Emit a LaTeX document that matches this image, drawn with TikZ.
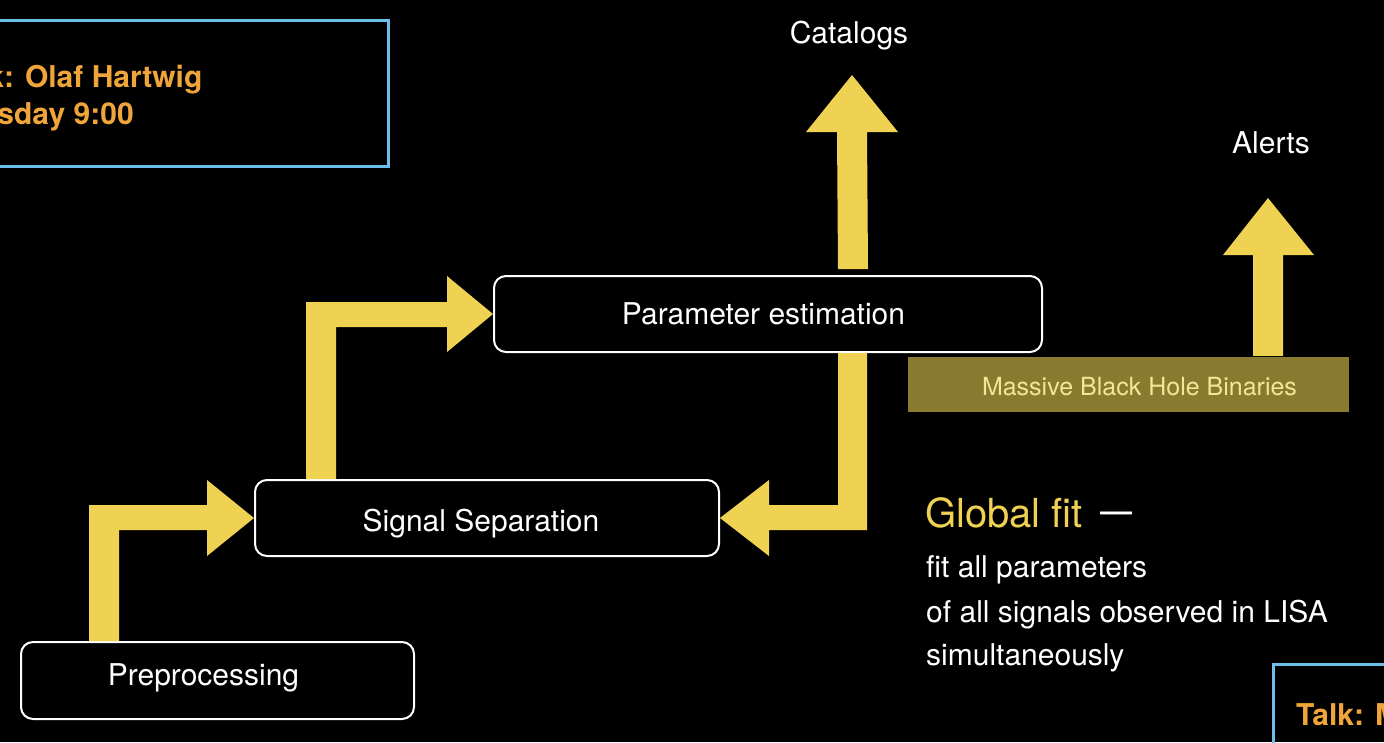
\documentclass[tikz,border=0pt]{standalone}
\usepackage{fontspec}
\setmainfont{TeX Gyre Heros}
\usetikzlibrary{calc}
\definecolor{arrowyellow}{RGB}{240,210,82}
\definecolor{mbhbfill}{RGB}{138,122,48}
\definecolor{mbhbtext}{RGB}{245,230,150}
\definecolor{talkblue}{RGB}{110,190,235}
\definecolor{talkorange}{RGB}{240,165,58}
\newcommand{\fsz}[1]{\fontsize{#1}{#1}\selectfont}
\tikzset{
  stagebox/.style={draw=white, line width=2pt, rounded corners=12pt, inner sep=0pt, fill=black},
  lbl/.style={text=white, font=\fsz{30}, inner sep=0pt, anchor=base},
  lblw/.style={text=white, font=\fsz{30}, inner sep=0pt, anchor=base west},
  blockarrow/.style={fill=arrowyellow},
  talkbox/.style={draw=talkblue, line width=3pt},
  talktext/.style={text=talkorange, font=\fsz{30}\bfseries, inner sep=0pt, anchor=base west}
}
\begin{document}
\begin{tikzpicture}[x=1pt,y=-1pt]
\useasboundingbox (0,0) rectangle (1384,742);
\fill[black] (0,0) rectangle (1384,742);
\clip (0,0) rectangle (1384,742);

% talk boxes
\draw[talkbox] (-10,20) rectangle (388,166);
\node[talktext] (talkA) at (-54,87) {Talk: Olaf Hartwig};
\node[talktext] (talkB) at (-54,124) {Tuesday 9:00};
\draw[talkbox] (1273,664) rectangle (1400,760);
\node[talktext] (talkC) at (1296,725) {Talk: M};

% stage boxes
\node[stagebox, minimum width=393pt, minimum height=77pt] (pre) at (217.5,680.5) {};
\node[lbl] (preL) at (203.5,685) {Preprocessing};
\node[stagebox, minimum width=464pt, minimum height=76pt] (sig) at (487,518) {};
\node[lbl] (sigL) at (481,531) {Signal Separation};
\node[stagebox, minimum width=548pt, minimum height=76pt] (par) at (768,314) {};
\node[lbl] (parL) at (763.5,324) {Parameter estimation};

% MBHB box
\node[fill=mbhbfill, minimum width=441pt, minimum height=55pt, inner sep=0pt] (mbhb) at (1128.5,384.5) {};
\node[text=mbhbtext, font=\fsz{25}, inner sep=0pt, anchor=base] (mbhbL) at (1139.5,395) {Massive Black Hole Binaries};

% outputs
\node[lbl] (cat) at (849,43) {Catalogs};
\coordinate (cattip) at (852,75);
\node[lbl] (alerts) at (1271,153) {Alerts};
\coordinate (alerttip) at (1268,198);

% arrow pre -> sig
\fill[blockarrow] ($(pre.north west)+(69,0)$) |- ($(sig.west)+(-47,-13)$)
  -- ($(sig.west)+(-47,-38)$) -- (sig.west) -- ($(sig.west)+(-47,38)$)
  -- ($(sig.west)+(-47,12)$) -| ($(pre.north west)+(99,0)$) -- cycle;
% arrow sig -> par
\fill[blockarrow] ($(sig.north west)+(52,0)$) |- ($(par.west)+(-46,-12)$)
  -- ($(par.west)+(-46,-38)$) -- (par.west) -- ($(par.west)+(-46,38)$)
  -- ($(par.west)+(-46,13)$) -| ($(sig.north west)+(82,0)$) -- cycle;
% arrow par -> sig (feedback)
\fill[blockarrow] ($(par.south east)+(-176,0)$) |- ($(sig.east)+(49,12)$)
  -- ($(sig.east)+(49,38)$) -- (sig.east) -- ($(sig.east)+(49,-38)$)
  -- ($(sig.east)+(49,-13)$) -| ($(par.south east)+(-205,0)$) -- cycle;
% arrow par -> catalogs
\fill[blockarrow] ($(par.north east)+(-205,-6)$) -- ($(cattip)+(-15,57)$)
  -- ($(cattip)+(-46,57)$) -- (cattip) -- ($(cattip)+(46,57)$)
  -- ($(cattip)+(15,57)$) -- ($(par.north east)+(-175,-6)$) -- cycle;
% arrow mbhb -> alerts
\fill[blockarrow] ($(mbhb.north east)+(-96,-1)$) -- ($(alerttip)+(-15,57)$)
  -- ($(alerttip)+(-45,57)$) -- (alerttip) -- ($(alerttip)+(46,57)$)
  -- ($(alerttip)+(15,57)$) -- ($(mbhb.north east)+(-66,-1)$) -- cycle;

% global fit text
\node[text=arrowyellow, font=\fsz{40}, inner sep=0pt, anchor=base west] (gf) at (925,527) {Global fit};
\node[text=white, font=\fsz{40}, inner sep=0pt, anchor=base west] (gfdash) at (1100,524) {\scalebox{0.8}[1]{—}};
\node[lblw] (gf1) at (926,577) {fit all parameters};
\node[lblw] (gf2) at (926,622) {of all signals observed in LISA};
\node[lblw] (gf3) at (926,665) {simultaneously};
\end{tikzpicture}
\end{document}
